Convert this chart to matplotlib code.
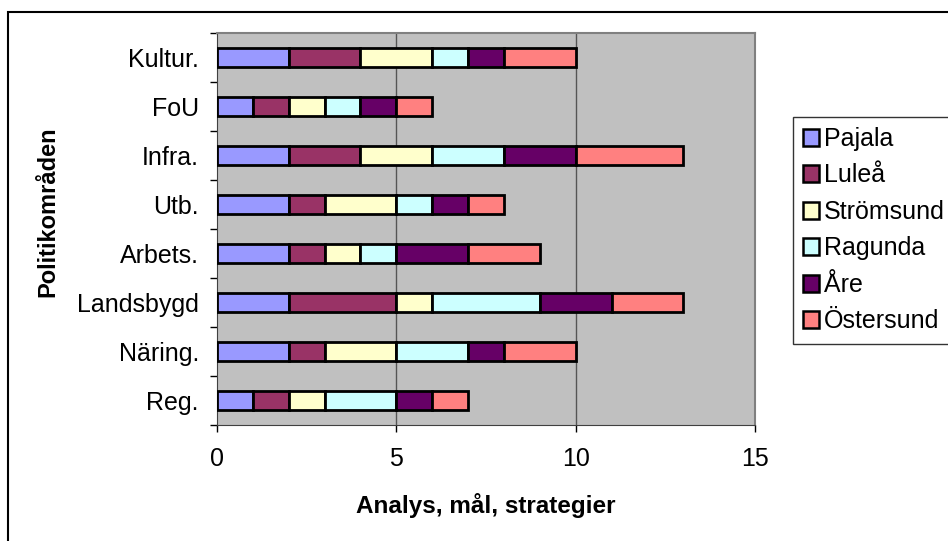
import numpy as np
import matplotlib.pyplot as plt
from matplotlib.patches import Rectangle

plt.rcParams['font.family'] = ['Liberation Sans', 'DejaVu Sans']

categories = ['Reg.', 'Näring.', 'Landsbygd', 'Arbets.', 'Utb.', 'Infra.', 'FoU', 'Kultur.']
series_names = ['Pajala', 'Luleå', 'Strömsund', 'Ragunda', 'Åre', 'Östersund']
pajala = [1, 2, 2, 2, 2, 2, 1, 2]
lulea = [1, 1, 3, 1, 1, 2, 1, 2]
stromsund = [1, 2, 1, 1, 2, 2, 1, 2]
ragunda = [2, 2, 3, 1, 1, 2, 1, 1]
are = [1, 1, 2, 2, 1, 2, 1, 1]
ostersund = [1, 2, 2, 2, 1, 3, 1, 2]
colors = ['#9999FF', '#993366', '#FFFFCC', '#CCFFFF', '#660066', '#FF8080']

W, H = 948, 541
fig = plt.figure(figsize=(W / 100, H / 100), dpi=100)
ax = fig.add_axes([217 / W, 1 - 425 / H, (755 - 217) / W, (425 - 33) / H])
ax.set_facecolor('#C0C0C0')

# outer chart frame
fig.patches.append(Rectangle((8 / W, -0.1), 1.2, 1 - 12 / H + 0.1, transform=fig.transFigure,
                             fill=False, edgecolor='black', lw=1.5))

y = np.arange(len(categories))
left = np.zeros(len(categories))
for name, vals, c in zip(series_names, [pajala, lulea, stromsund, ragunda, are, ostersund], colors):
    ax.barh(y, vals, left=left, height=0.4, color=c, edgecolor='black', linewidth=2,
            label=name, zorder=3)
    left += np.array(vals)

ax.set_xlim(0, 15)
ax.set_ylim(-0.5, len(categories) - 0.5)
ax.set_xticks([0, 5, 10, 15])
ax.set_xticklabels(['0', '5', '10', '15'])
ax.set_yticks(y)
ax.set_yticklabels(categories)
ax.set_yticks(np.arange(-0.5, len(categories)), minor=True)
ax.tick_params(axis='y', which='major', length=0, pad=13, labelsize=18)
ax.tick_params(axis='y', which='minor', length=5, width=1, color='black', direction='out')
ax.tick_params(axis='x', length=5, width=1, color='black', pad=11, labelsize=18)
for v in [5, 10]:
    ax.axvline(v, color='#555555', lw=1, zorder=1)

for s in ['top', 'right']:
    ax.spines[s].set_color('#808080')
    ax.spines[s].set_linewidth(1.5)
ax.spines['left'].set_color('#404040')
ax.spines['bottom'].set_color('#404040')

fig.text(486 / W, 1 - 506 / H, 'Analys, mål, strategier', ha='center', va='center',
         fontsize=17.5, fontweight='bold')
fig.text(48 / W, 1 - 212 / H, 'Politikområden', ha='center', va='center', rotation=90,
         fontsize=17, fontweight='bold')

handles, labels = ax.get_legend_handles_labels()
leg = fig.legend(handles, labels, loc='upper left', bbox_to_anchor=(793 / W, 1 - 117 / H),
                 fontsize=18, frameon=True, fancybox=False, edgecolor='black',
                 handlelength=0.65, handleheight=0.65, handletextpad=0.2,
                 labelspacing=0.5, borderpad=0.4, borderaxespad=0)
leg.get_frame().set_linewidth(1)
for p in leg.get_patches():
    p.set_linewidth(1.8)

fig.savefig('out.png', dpi=100)
